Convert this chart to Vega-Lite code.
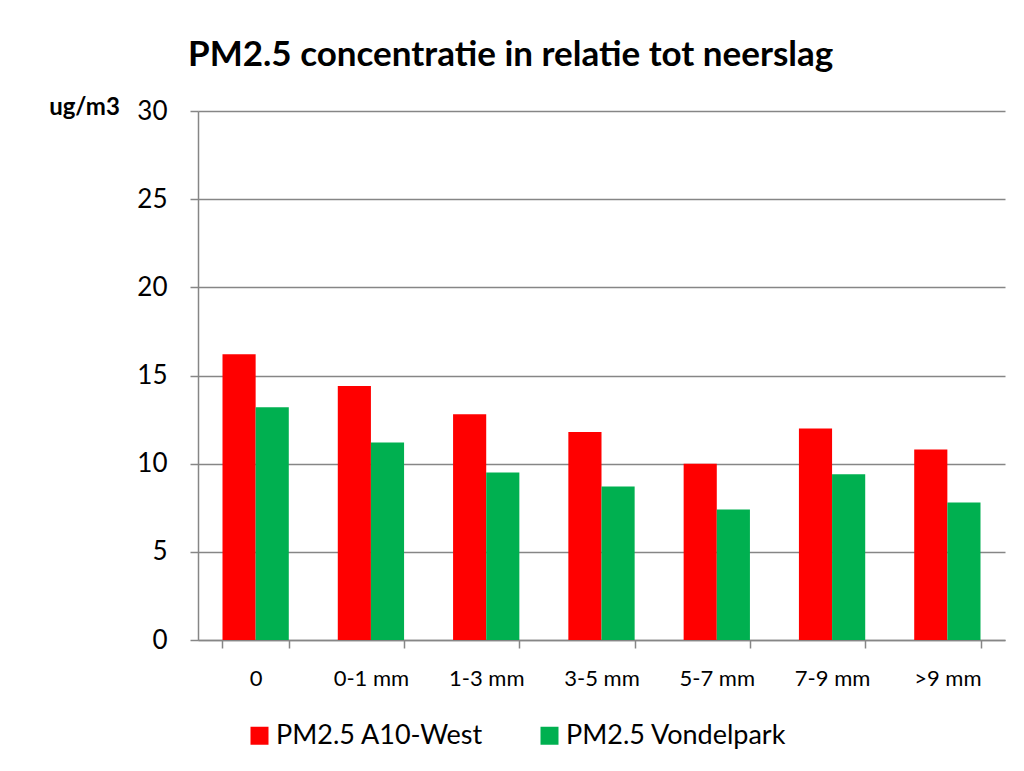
{
  "$schema": "https://vega.github.io/schema/vega-lite/v6.json",
  "width": 807,
  "height": 529,
  "autosize": "none",
  "padding": {"left": 198, "top": 111, "right": 19, "bottom": 131},
  "background": "white",
  "title": {
    "text": "PM2.5 concentratie in relatie tot neerslag",
    "anchor": "start",
    "frame": "group",
    "dx": -10,
    "offset": -6,
    "baseline": "alphabetic",
    "font": "Lato",
    "fontSize": 35,
    "fontWeight": "bold",
    "color": "black"
  },
  "data": {
    "values": [
      {"cat": "0", "series": "PM2.5 A10-West", "value": 16.2},
      {"cat": "0", "series": "PM2.5 Vondelpark", "value": 13.2},
      {"cat": "0-1 mm", "series": "PM2.5 A10-West", "value": 14.4},
      {"cat": "0-1 mm", "series": "PM2.5 Vondelpark", "value": 11.2},
      {"cat": "1-3 mm", "series": "PM2.5 A10-West", "value": 12.8},
      {"cat": "1-3 mm", "series": "PM2.5 Vondelpark", "value": 9.5},
      {"cat": "3-5 mm", "series": "PM2.5 A10-West", "value": 11.8},
      {"cat": "3-5 mm", "series": "PM2.5 Vondelpark", "value": 8.7},
      {"cat": "5-7 mm", "series": "PM2.5 A10-West", "value": 10.0},
      {"cat": "5-7 mm", "series": "PM2.5 Vondelpark", "value": 7.4},
      {"cat": "7-9 mm", "series": "PM2.5 A10-West", "value": 12.0},
      {"cat": "7-9 mm", "series": "PM2.5 Vondelpark", "value": 9.4},
      {"cat": ">9 mm", "series": "PM2.5 A10-West", "value": 10.8},
      {"cat": ">9 mm", "series": "PM2.5 Vondelpark", "value": 7.8}
    ]
  },
  "mark": {"type": "bar", "strokeWidth": 0},
  "encoding": {
    "x": {
      "field": "cat",
      "type": "nominal",
      "sort": null,
      "scale": {"paddingInner": 0.425, "paddingOuter": 0.2125},
      "axis": {
        "title": null,
        "labelAngle": 0,
        "labelFont": "Lato",
        "labelFontSize": 22,
        "labelColor": "black",
        "labelPadding": 20,
        "labelLimit": 200,
        "tickBand": "extent",
        "tickSize": 8,
        "tickColor": "#868686",
        "domainColor": "#868686",
        "domainWidth": 1.5,
        "tickWidth": 1.5,
        "grid": false
      }
    },
    "xOffset": {"field": "series", "sort": null},
    "y": {
      "field": "value",
      "type": "quantitative",
      "scale": {"domain": [0, 30]},
      "axis": {
        "values": [0, 5, 10, 15, 20, 25, 30],
        "title": "ug/m3",
        "titleAngle": 0,
        "titleAlign": "center",
        "titleBaseline": "alphabetic",
        "titleX": -114,
        "titleY": 3,
        "titleFont": "Lato",
        "titleFontSize": 24,
        "titleFontWeight": "bold",
        "titleColor": "black",
        "labelFont": "Lato",
        "labelFontSize": 26,
        "labelColor": "black",
        "labelPadding": 23,
        "tickSize": 8,
        "tickColor": "#868686",
        "tickWidth": 1.5,
        "domainColor": "#868686",
        "domainWidth": 1.5,
        "gridColor": "#868686",
        "gridWidth": 1.5
      }
    },
    "color": {
      "field": "series",
      "type": "nominal",
      "sort": null,
      "scale": {"domain": ["PM2.5 A10-West", "PM2.5 Vondelpark"], "range": ["#FF0000", "#00B050"]},
      "legend": {
        "title": null,
        "orient": "none",
        "direction": "horizontal",
        "legendX": 48,
        "legendY": 611,
        "symbolType": "square",
        "symbolSize": 324,
        "symbolStrokeWidth": 0,
        "labelFont": "Lato",
        "labelFontSize": 27,
        "labelColor": "black",
        "labelOffset": 3,
        "labelLimit": 400,
        "columnPadding": 52
      }
    }
  },
  "config": {"view": {"stroke": null}}
}
